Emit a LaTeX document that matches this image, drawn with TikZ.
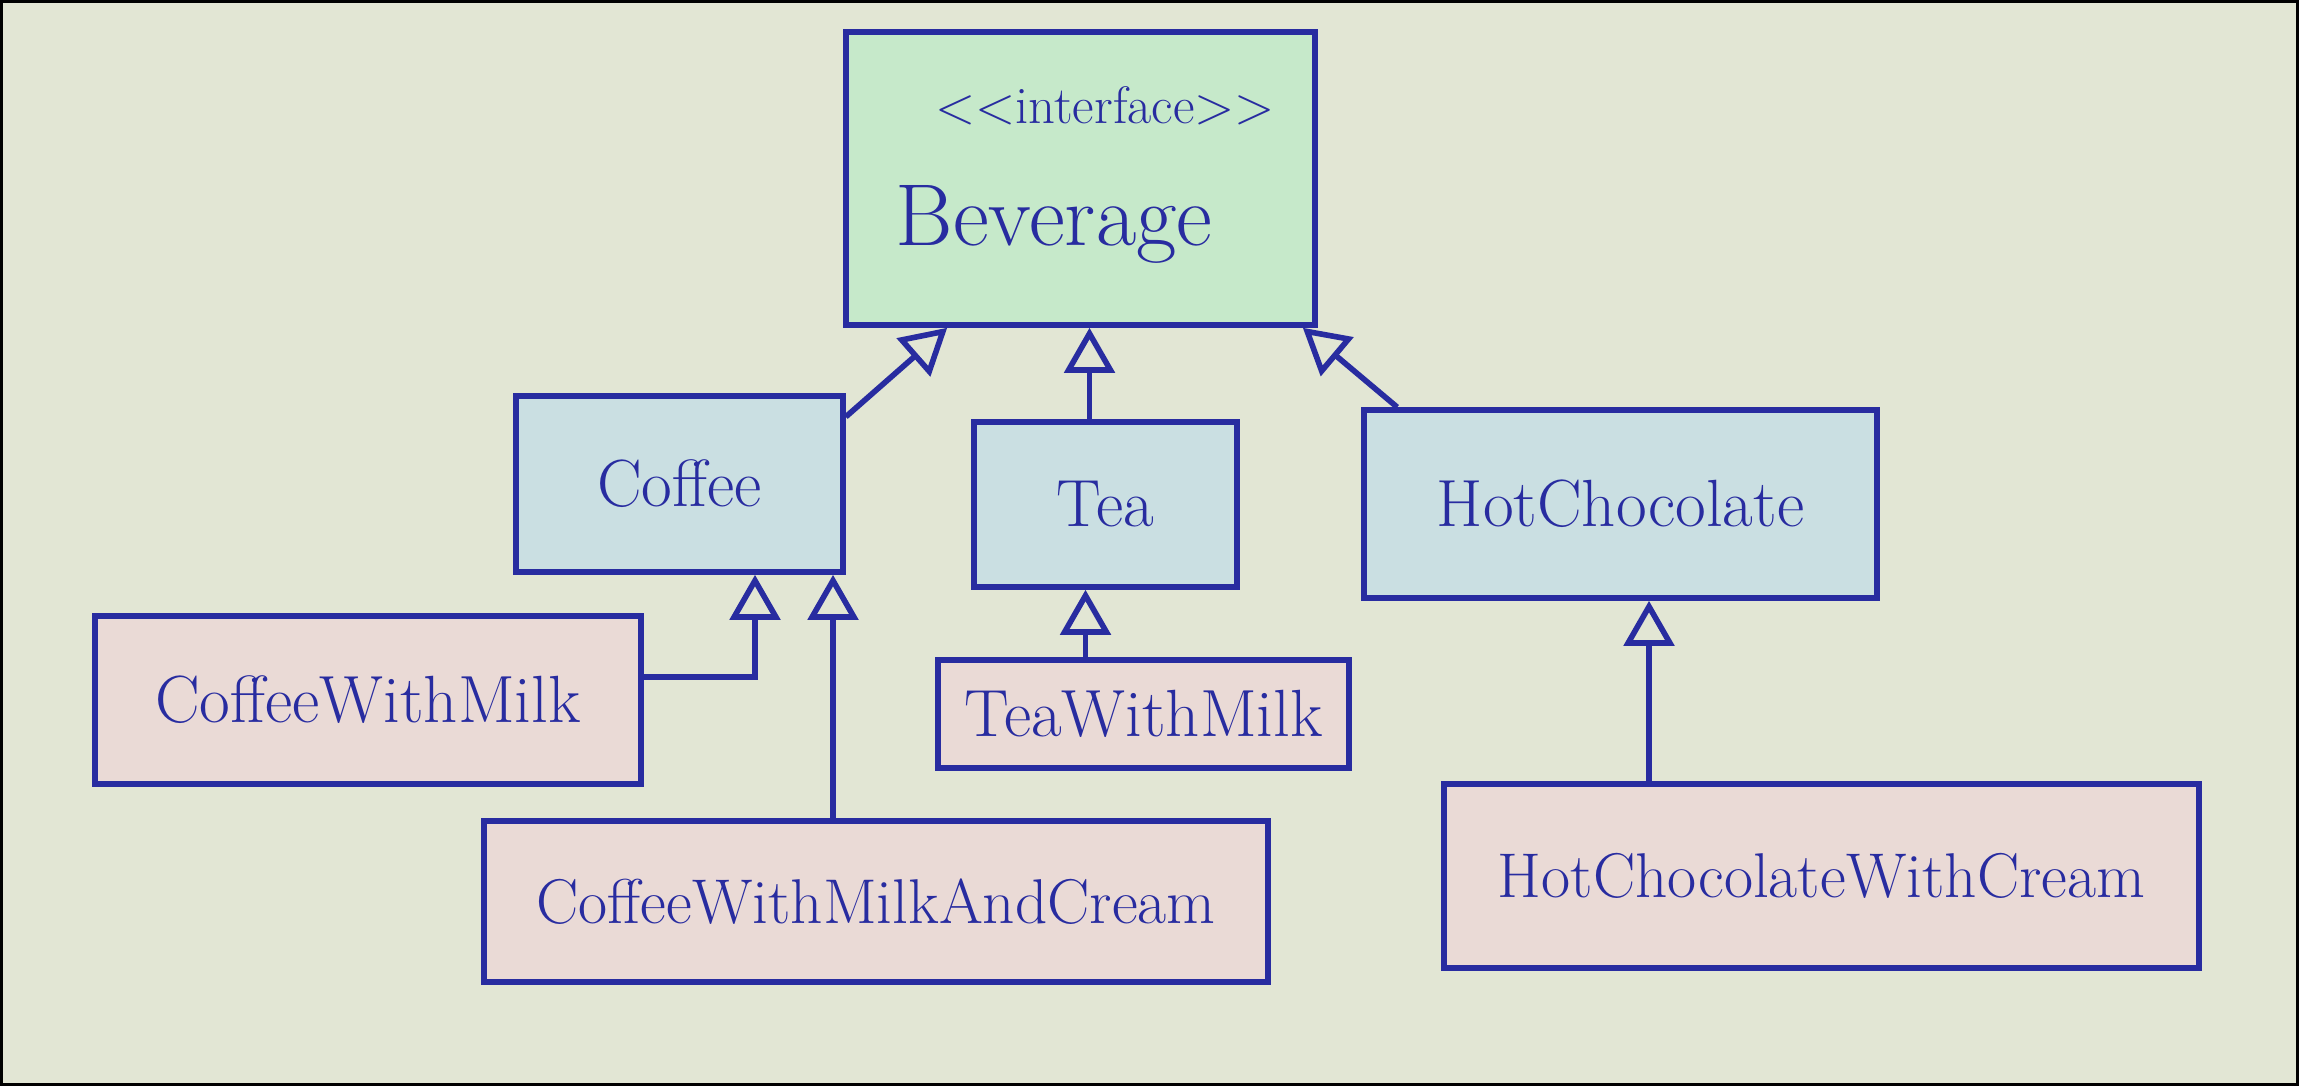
\documentclass[tikz,border=0pt]{standalone}
\usepackage{tikz}
\usetikzlibrary{arrows.meta}

\definecolor{ink}{RGB}{40,44,160}
\definecolor{paper}{RGB}{226,230,212}
\definecolor{ifacefill}{RGB}{198,233,202}
\definecolor{basefill}{RGB}{202,223,226}
\definecolor{subfill}{RGB}{234,218,214}

\tikzset{
    classbox/.style={draw=ink, line width=1.6pt, text=ink, font=\fontsize{19}{21}\selectfont, inner sep=0pt},
    extends/.style={draw=ink, line width=1.6pt, -{Triangle[open, length=0.45cm, width=0.5cm, line width=1.6pt]}}
}

\begin{document}
\begin{tikzpicture}
            % Paper
            \fill [paper] (0,0) rectangle (22.99,-10.86);
            \useasboundingbox (0,0) rectangle (22.99,-10.86);
            \draw [black, line width=1.5pt] (0,0) rectangle (22.99,-10.86);

            % The interface
            \node (bev) at (10.805,-1.785) [classbox, fill=ifacefill, minimum width=4.69cm, minimum height=2.93cm] {};
            \node (bevstereo) at (11.05,-1.06) [text=ink, font=\fontsize{15}{17}\selectfont] {{<}{<}interface{>}{>}};
            \node (bevname) at (10.54,-2.24) [text=ink, font=\fontsize{25}{27}\selectfont] {Beverage};

                % First level of classes
                \node (coffee) at (6.795,-4.84) [classbox, fill=basefill, minimum width=3.27cm, minimum height=1.76cm] {Coffee};
                \node (tea) at (11.055,-5.045) [classbox, fill=basefill, minimum width=2.63cm, minimum height=1.65cm] {Tea};
                \node (hotchoc) at (16.205,-5.04) [classbox, fill=basefill, minimum width=5.13cm, minimum height=1.88cm] {HotChocolate};

                \draw [extends] (coffee.22) -- ([xshift=1.04cm]bev.south west);
                \draw [extends] ([xshift=-0.16cm]tea.north) -- ([xshift=-0.16cm]tea.north |- bev.south);
                \draw [extends] ([xshift=0.36cm]hotchoc.north west) -- ([xshift=-0.15cm]bev.south east);

                    % Second level of classes
                    \node (cwm) at (3.68,-7.0) [classbox, fill=subfill, minimum width=5.46cm, minimum height=1.68cm] {CoffeeWithMilk};
                    \node (twm) at (11.435,-7.14) [classbox, fill=subfill, minimum width=4.11cm, minimum height=1.08cm] {TeaWithMilk};
                    \node (cwmac) at (8.76,-9.015) [classbox, fill=subfill, minimum width=7.84cm, minimum height=1.61cm, font=\fontsize{18}{20}\selectfont] {CoffeeWithMilkAndCream};
                    \node (hcwc) at (18.215,-8.76) [classbox, fill=subfill, minimum width=7.55cm, minimum height=1.84cm, font=\fontsize{18}{20}\selectfont] {HotChocolateWithCream};

                    \coordinate (coffeeL) at ([xshift=0.755cm]coffee.south);
                    \coordinate (coffeeR) at ([xshift=1.535cm]coffee.south);
                    \coordinate (teaB) at ([xshift=-0.2cm]tea.south);
                    \coordinate (hotchocB) at ([xshift=0.285cm]hotchoc.south);

                    \draw [extends] ([yshift=0.23cm]cwm.east) -| (coffeeL);
                    \draw [extends] (cwmac.north -| coffeeR) -- (coffeeR);
                    \draw [extends] (twm.north -| teaB) -- (teaB);
                    \draw [extends] (hcwc.north -| hotchocB) -- (hotchocB);
        \end{tikzpicture}
\end{document}
